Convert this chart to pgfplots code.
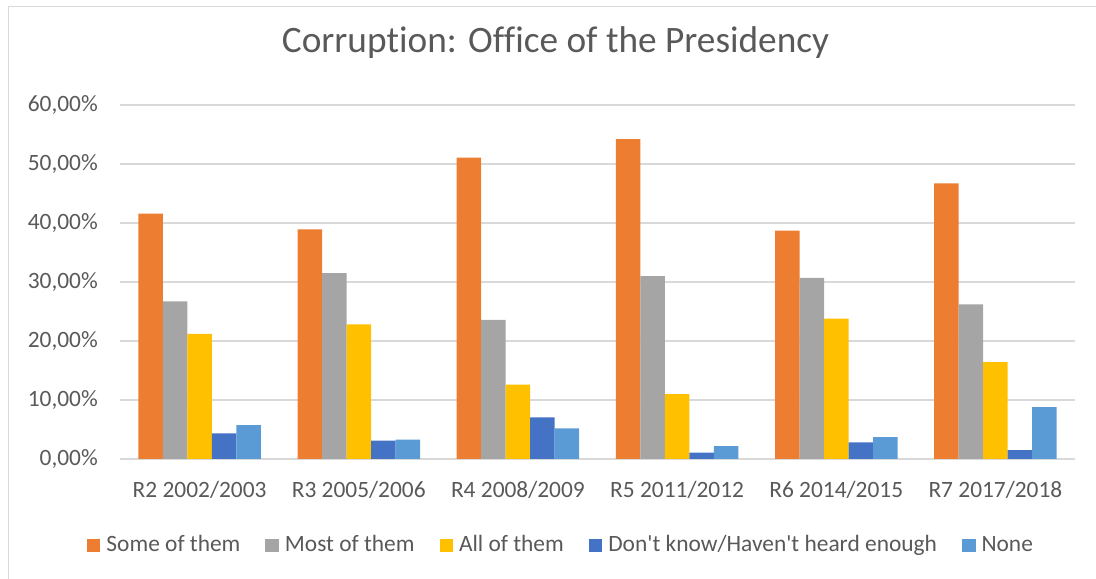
\documentclass[border=0pt]{standalone}
\usepackage{pgfplots}
\pgfplotsset{compat=1.18}
\usepackage{fontspec}
\setmainfont{Carlito}[Ligatures={NoCommon}]
\definecolor{cOrange}{HTML}{ED7D31}
\definecolor{cGray}{HTML}{A5A5A5}
\definecolor{cYellow}{HTML}{FFC000}
\definecolor{cDBlue}{HTML}{4472C4}
\definecolor{cLBlue}{HTML}{5B9BD5}
\definecolor{cText}{HTML}{595959}
\definecolor{cGrid}{HTML}{D9D9D9}
\begin{document}
\begin{tikzpicture}
\useasboundingbox (0,0) rectangle (1096bp,579bp);
\draw[cGrid, line width=1.3bp] (8.5bp,0) -- (8.5bp,572.5bp) -- (1096bp,572.5bp);
\node[anchor=base, text=cText, inner sep=0pt, font=\fontsize{37.3bp}{44bp}\selectfont] at (555.5bp,526bp) {Corrup\kern0pt tion: Office of the Presidency};
\begin{axis}[
  at={(120bp,120bp)}, anchor=south west,
  scale only axis, width=955bp, height=354bp,
  xmin=-0.5, xmax=5.5, ymin=0, ymax=60,
  ybar=0pt, bar width=24.5bp,
  axis line style={draw=none},
  major tick length=0pt,
  ymajorgrids, grid style={cGrid, line width=1.3bp},
  ytick={0,10,20,30,40,50,60},
  yticklabels={{0,00\%},{10,00\%},{20,00\%},{30,00\%},{40,00\%},{50,00\%},{60,00\%}},
  xtick={0,1,2,3,4,5},
  xticklabels={R2 2002/2003, R3 2005/2006, R4 2008/2009, R5 2011/2012, R6 2014/2015, R7 2017/2018},
  tick label style={text=cText, font=\fontsize{23.4bp}{28bp}\selectfont, inner sep=0pt},
  yticklabel style={anchor=east, xshift=-22bp},
  xticklabel style={anchor=base, yshift=-38bp},
  legend columns=-1,
  legend style={at={(rel axis cs:0.4607,-0.2415)}, anchor=center, draw=none, fill=none,
    font=\fontsize{23.4bp}{28bp}\selectfont, text=cText,
    cells={anchor=base west}, nodes={inner sep=0pt},
    /tikz/every odd column/.append style={column sep=6bp},
    /tikz/every even column/.append style={column sep=25bp}},
  legend image code/.code={\fill[#1] (0bp,-0.5bp) rectangle (13.5bp,13bp);},
]
\addplot[fill=cOrange, draw=none] coordinates {(0,41.6) (1,38.9) (2,51.1) (3,54.2) (4,38.7) (5,46.7)};
\addplot[fill=cGray, draw=none] coordinates {(0,26.7) (1,31.5) (2,23.6) (3,31.0) (4,30.7) (5,26.2)};
\addplot[fill=cYellow, draw=none] coordinates {(0,21.2) (1,22.8) (2,12.6) (3,11.0) (4,23.8) (5,16.4)};
\addplot[fill=cDBlue, draw=none] coordinates {(0,4.35) (1,3.1) (2,7.06) (3,1.1) (4,2.8) (5,1.5)};
\addplot[fill=cLBlue, draw=none] coordinates {(0,5.76) (1,3.3) (2,5.2) (3,2.2) (4,3.7) (5,8.8)};
\legend{Some of them, Most of them, All of them, Don\textquotesingle t know/Haven\textquotesingle t heard enough, None}
\end{axis}
\end{tikzpicture}
\end{document}
